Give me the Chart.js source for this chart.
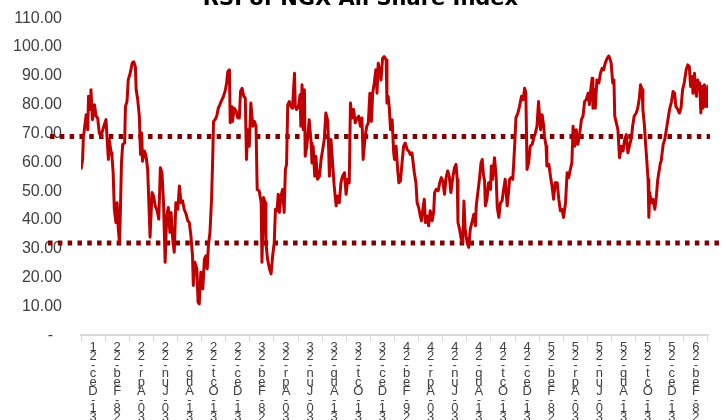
<!DOCTYPE html>
<html>
<head>
<meta charset="utf-8">
<script src="https://cdn.jsdelivr.net/npm/chart.js@4.4.1/dist/chart.umd.min.js"></script>
<style>
    html, body { margin: 0; padding: 0; background: #fff; overflow: hidden; width: 723px; height: 420px; }
    #wrap { position: absolute; left: 0; top: -24px; width: 723px; height: 448px; }
</style>
</head>
<body>
<div id="wrap"><canvas id="rsiChart" width="723" height="448"></canvas></div>
<script>
const chartTitle = 'RSI of NGX All Share Index';

// etiquetas cada dos meses
const periodLabels = [
    '31-Dec-21', '28-Feb-22', '30-Apr-22', '30-Jun-22', '31-Aug-22', '31-Oct-22',
    '31-Dec-22', '28-Feb-23', '30-Apr-23', '30-Jun-23', '31-Aug-23', '31-Oct-23',
    '31-Dec-23', '29-Feb-24', '30-Apr-24', '30-Jun-24', '31-Aug-24', '31-Oct-24',
    '31-Dec-24', '28-Feb-25', '30-Apr-25', '30-Jun-25', '31-Aug-25', '31-Oct-25',
    '31-Dec-25', '28-Feb-26'
];

// dias desde 31-Dec-21
const dayIndex = [
    0, 4, 6, 8, 13, 17, 19, 23, 25, 29, 34, 38, 42, 46, 50, 55, 59, 63, 66, 69,
    71, 76, 78, 81, 84, 88, 91, 94, 97, 99, 102, 105, 110, 112, 116, 119, 124, 129, 133, 137,
    139, 143, 147, 150, 153, 155, 160, 164, 168, 171, 174, 179, 183, 187, 192, 196, 200, 204, 208, 212,
    216, 220, 224, 227, 231, 235, 239, 244, 248, 252, 256, 260, 265, 269, 273, 277, 281, 283, 287, 292,
    295, 298, 302, 307, 311, 315, 318, 321, 325, 329, 332, 334, 338, 342, 346, 350, 355, 359, 363, 367,
    370, 374, 376, 380, 382, 386, 391, 395, 399, 402, 406, 410, 414, 417, 420, 424, 428, 433, 437, 441,
    444, 449, 454, 456, 460, 464, 466, 470, 475, 479, 483, 487, 490, 494, 497, 500, 504, 508, 512, 515,
    518, 521, 525, 529, 533, 538, 540, 543, 548, 552, 554, 557, 560, 563, 565, 569, 573, 575, 580, 582,
    585, 589, 592, 596, 601, 605, 609, 613, 617, 622, 626, 630, 634, 638, 643, 647, 651, 655, 659, 664,
    668, 672, 676, 679, 683, 687, 691, 696, 700, 704, 708, 711, 716, 720, 724, 728, 732, 735, 739, 743,
    746, 749, 753, 756, 760, 764, 769, 771, 774, 777, 780, 784,
    788, 790, 794, 798, 801, 805, 809, 813, 817, 822, 826, 830, 834, 837, 840, 844, 847, 851, 855, 858,
    861, 865, 868, 872, 876, 880, 885, 889, 891, 895, 900, 904, 908, 912, 916, 920, 924, 928, 932, 937,
    941, 945, 948, 950, 954, 958, 962, 965, 968, 973, 977, 981, 985, 990, 994, 996, 1000, 1004, 1008, 1011,
    1014, 1017, 1019, 1023, 1027, 1032, 1034, 1037, 1042, 1046, 1049, 1053, 1057, 1061, 1065, 1069, 1074, 1078, 1080, 1084,
    1088, 1090, 1093, 1096, 1101, 1105, 1110, 1114, 1118, 1121, 1124, 1128, 1132, 1137, 1141, 1145, 1149, 1153, 1158, 1162,
    1166, 1168, 1172, 1174, 1179, 1183, 1187, 1191, 1195, 1200, 1204, 1208, 1212, 1216, 1221, 1225, 1229, 1233, 1237, 1240,
    1244, 1248, 1252, 1257, 1261, 1265, 1269, 1273, 1278, 1281, 1285, 1288, 1290, 1294, 1296, 1300, 1305, 1309, 1313, 1317,
    1321, 1326, 1330, 1334, 1336, 1340, 1343, 1345, 1349, 1353, 1357, 1362, 1366, 1370, 1374, 1378, 1383, 1387, 1390, 1394,
    1399, 1403, 1407, 1410, 1414, 1416, 1420, 1422, 1425, 1429, 1431, 1433, 1437, 1441, 1446, 1450, 1453, 1456, 1460, 1462,
    1467, 1471, 1475, 1479, 1483, 1488, 1492, 1496, 1499, 1504, 1508, 1512, 1516, 1520, 1525, 1529, 1533, 1536, 1540, 1542,
    1546, 1548, 1551, 1554, 1557, 1559, 1562, 1565, 1567, 1571, 1573, 1576, 1578, 1580
];

const rsiValues = [
    57.5, 61.0, 69.0, 70.8, 76.5, 71.3, 82.9, 78.3, 85.2, 74.8, 80.0, 76.0, 75.4, 70.2, 69.0, 71.3, 73.1, 74.8, 67.9, 61.0,
    67.9, 63.3, 62.1, 56.4, 43.7, 39.1, 46.0, 36.8, 32.2, 41.4, 59.8, 66.2, 66.7, 79.4, 81.1, 88.6, 90.9, 94.4, 94.9, 93.2,
    85.2, 81.7, 76.0, 62.7, 70.2, 60.4, 63.9, 62.1, 57.5, 46.0, 34.0, 49.5, 48.3, 44.9, 43.2, 40.3, 58.1, 56.4, 46.0, 25.3,
    41.4, 44.3, 35.7, 42.6, 33.4, 28.8, 46.0, 43.7, 51.8, 46.0, 46.6, 43.7, 42.0, 39.7, 39.1, 34.5, 27.6, 17.3, 25.3, 23.0,
    11.5, 10.9, 21.9, 16.1, 26.5, 27.6, 23.0, 31.1, 35.7, 47.2, 62.1, 74.2, 74.8, 76.0, 78.8, 80.0, 81.7, 82.9, 84.6, 87.5,
    91.5, 92.1, 73.7, 79.4, 74.2, 78.8, 77.7, 75.4, 75.4, 84.6, 85.7, 82.9, 82.3, 61.0, 71.3, 65.6, 80.6, 72.5, 74.2, 72.5,
    50.6, 50.1, 46.0, 25.3, 47.8, 46.0, 32.2, 26.5, 23.0, 21.3, 27.6, 32.2, 43.7, 43.2, 48.9, 42.6, 48.3, 50.6, 42.6, 57.5,
    59.3, 80.0, 81.1, 79.4, 78.8, 90.9, 79.4, 78.3, 79.4, 83.4, 72.5, 86.9, 71.3, 85.2, 62.1, 65.6, 71.3, 74.8, 66.7, 59.8,
    65.6, 55.2, 62.1, 54.1, 55.2, 61.0, 64.4, 67.9, 77.1, 74.2, 55.2, 67.9, 59.8, 51.8, 44.9, 48.3, 46.0, 52.9, 55.2, 56.4,
    48.9, 54.1, 52.9, 80.6, 75.4, 78.3, 73.7, 75.4, 76.0, 72.5, 75.4, 61.0, 69.0, 72.5, 73.7, 84.0, 74.2, 84.0, 87.5, 92.1,
    84.0, 94.4, 90.9, 88.6, 96.1, 96.7, 95.5, 80.6, 82.9, 78.8, 71.3, 74.8,
    63.3, 61.0, 65.6, 57.5, 52.9, 53.5, 59.8, 65.6, 66.7, 64.4, 63.9, 62.7, 63.3, 59.8, 56.4, 52.9, 46.0, 44.3, 41.4, 39.7,
    43.2, 47.2, 39.1, 41.4, 38.0, 43.2, 39.7, 43.2, 49.5, 50.6, 50.1, 52.9, 54.7, 53.5, 48.9, 54.7, 57.0, 55.2, 49.5, 54.7,
    58.1, 59.3, 54.1, 39.1, 36.8, 33.4, 32.2, 46.6, 36.8, 32.2, 30.5, 36.8, 39.1, 42.0, 38.0, 44.9, 49.5, 54.1, 59.8, 61.0,
    55.8, 53.5, 44.9, 47.2, 52.9, 50.6, 58.7, 54.1, 61.6, 55.2, 44.3, 40.9, 46.0, 46.6, 50.6, 54.1, 44.9, 50.6, 54.1, 54.7,
    54.1, 58.7, 66.2, 75.4, 77.1, 79.4, 82.9, 81.7, 85.7, 84.0, 57.5, 59.8, 65.6, 66.2, 68.5, 70.2, 72.5, 81.1, 71.3, 76.5,
    72.5, 69.0, 65.6, 58.7, 59.3, 55.2, 51.8, 47.2, 52.9, 52.9, 47.2, 43.2, 43.7, 40.9, 46.0, 56.4, 54.7, 57.5, 59.8, 72.5,
    65.6, 71.3, 66.2, 70.2, 74.8, 76.0, 81.1, 81.7, 84.0, 80.0, 85.7, 89.2, 78.8, 85.2, 78.8, 88.6, 87.5, 90.9, 92.6, 92.1,
    94.4, 96.1, 96.9, 95.5, 94.4, 87.5, 88.6, 76.0, 73.7, 71.3, 61.6, 65.6, 63.9, 67.9, 69.6, 63.3, 66.2, 68.5, 72.5, 76.0,
    77.1, 78.8, 82.3, 86.9, 85.2, 78.3, 72.5, 67.9, 62.1, 54.1, 40.9, 49.5, 46.0, 47.2, 43.7, 48.3, 53.5, 56.4, 59.8, 60.4,
    66.2, 67.9, 71.3, 74.8, 78.3, 81.1, 84.6, 84.0, 79.4, 78.3, 77.1, 78.8, 85.2, 87.5, 92.1, 93.8, 93.2, 86.3, 89.8, 84.0,
    90.9, 85.2, 82.9, 88.6, 85.2, 87.5, 77.1, 86.3, 78.8, 86.9, 79.4, 85.7, 79.4, 86.9
];

const overboughtLevel = 69;
const oversoldLevel = 32;
const firstDay = 0;
const lastDay = 1580;

// las etiquetas salen apiladas y al reves, caracter por caracter
const stackedLabels = periodLabels.map(l => l.split('').reverse());

const rsiPoints = dayIndex.map((d, i) => ({ x: d, y: rsiValues[i] }));

const ctx = document.getElementById('rsiChart').getContext('2d');
new Chart(ctx, {
    type: 'line',
    data: {
        datasets: [
            {
                data: rsiPoints,
                borderColor: '#c00000',
                borderWidth: 3,
                borderJoinStyle: 'round',
                pointRadius: 0,
                tension: 0,
                xAxisID: 'x'
            },
            {
                data: [{ x: firstDay - 78, y: overboughtLevel }, { x: lastDay + 5, y: overboughtLevel }],
                borderColor: '#7f0000',
                borderWidth: 5,
                borderDash: [4.5, 5.3],
                pointRadius: 0,
                clip: false,
                xAxisID: 'x'
            },
            {
                data: [{ x: firstDay - 83, y: oversoldLevel }, { x: lastDay + 33, y: oversoldLevel }],
                borderColor: '#7f0000',
                borderWidth: 5,
                borderDash: [4.5, 5.3],
                pointRadius: 0,
                clip: false,
                xAxisID: 'x'
            }
        ]
    },
    options: {
        responsive: false,
        animation: false,
        layout: { padding: { left: 13, right: 15, top: 0, bottom: 0 } },
        plugins: {
            legend: { display: false },
            tooltip: { enabled: false },
            title: {
                display: true,
                text: chartTitle,
                color: '#000',
                font: { family: 'DejaVu Sans', size: 21, weight: 'bold' },
                padding: { top: 11, bottom: 6 }
            }
        },
        scales: {
            x: {
                type: 'linear',
                display: false,
                min: firstDay,
                max: lastDay
            },
            xl: {
                type: 'category',
                position: 'bottom',
                labels: stackedLabels,
                offset: true,
                grid: { offset: true, drawOnChartArea: false, drawTicks: true, tickLength: 6, color: '#d9d9d9' },
                border: { display: true, color: '#d9d9d9', width: 2 },
                ticks: {
                    autoSkip: false,
                    maxRotation: 0,
                    minRotation: 0,
                    padding: 2,
                    color: '#404040',
                    font: { family: 'Liberation Sans', size: 13, lineHeight: 0.673 }
                }
            },
            y: {
                min: 0,
                max: 110,
                grid: { display: false, drawTicks: false },
                border: { display: false },
                afterFit: scale => { scale.width = 68; },
                ticks: {
                    stepSize: 10,
                    padding: 19,
                    color: '#404040',
                    font: { family: 'Liberation Sans', size: 16 },
                    callback: v => v === 0 ? '-  ' : v.toFixed(2)
                }
            }
        }
    }
});
</script>
</body>
</html>
